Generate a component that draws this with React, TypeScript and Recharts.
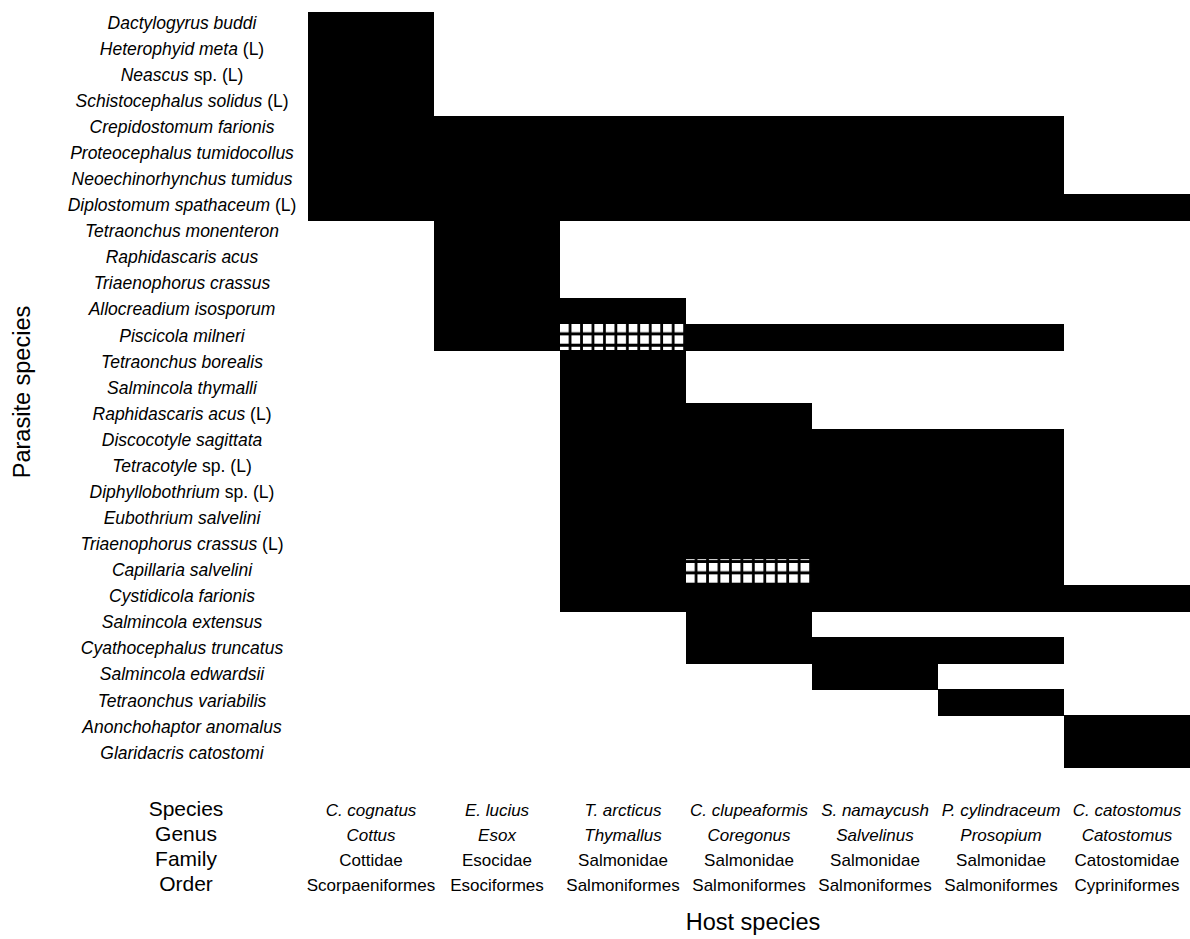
import { BarChart, Bar, XAxis, YAxis } from "recharts";

const parasites = [
  "Dactylogyrus buddi",
  "Heterophyid meta (L)",
  "Neascus sp. (L)",
  "Schistocephalus solidus (L)",
  "Crepidostomum farionis",
  "Proteocephalus tumidocollus",
  "Neoechinorhynchus tumidus",
  "Diplostomum spathaceum (L)",
  "Tetraonchus monenteron",
  "Raphidascaris acus",
  "Triaenophorus crassus",
  "Allocreadium isosporum",
  "Piscicola milneri",
  "Tetraonchus borealis",
  "Salmincola thymalli",
  "Raphidascaris acus (L)",
  "Discocotyle sagittata",
  "Tetracotyle sp. (L)",
  "Diphyllobothrium sp. (L)",
  "Eubothrium salvelini",
  "Triaenophorus crassus (L)",
  "Capillaria salvelini",
  "Cystidicola farionis",
  "Salmincola extensus",
  "Cyathocephalus truncatus",
  "Salmincola edwardsii",
  "Tetraonchus variabilis",
  "Anonchohaptor anomalus",
  "Glaridacris catostomi",
];

const hostSpecies = ["C. cognatus", "E. lucius", "T. arcticus", "C. clupeaformis", "S. namaycush", "P. cylindraceum", "C. catostomus"];
const hostGenus = ["Cottus", "Esox", "Thymallus", "Coregonus", "Salvelinus", "Prosopium", "Catostomus"];
const hostFamily = ["Cottidae", "Esocidae", "Salmonidae", "Salmonidae", "Salmonidae", "Salmonidae", "Catostomidae"];
const hostOrder = ["Scorpaeniformes", "Esociformes", "Salmoniformes", "Salmoniformes", "Salmoniformes", "Salmoniformes", "Cypriniformes"];
const rankLabels = ["Species", "Genus", "Family", "Order"];

// 1 = present, 2 = checkered cell, 0 = absent (one value per parasite row)
const cCognatus = [1, 1, 1, 1, 1, 1, 1, 1, 0, 0, 0, 0, 0, 0, 0, 0, 0, 0, 0, 0, 0, 0, 0, 0, 0, 0, 0, 0, 0];
const eLucius = [0, 0, 0, 0, 1, 1, 1, 1, 1, 1, 1, 1, 1, 0, 0, 0, 0, 0, 0, 0, 0, 0, 0, 0, 0, 0, 0, 0, 0];
const tArcticus = [0, 0, 0, 0, 1, 1, 1, 1, 0, 0, 0, 1, 2, 1, 1, 1, 1, 1, 1, 1, 1, 1, 1, 0, 0, 0, 0, 0, 0];
const cClupeaformis = [0, 0, 0, 0, 1, 1, 1, 1, 0, 0, 0, 0, 1, 0, 0, 1, 1, 1, 1, 1, 1, 2, 1, 1, 1, 0, 0, 0, 0];
const sNamaycush = [0, 0, 0, 0, 1, 1, 1, 1, 0, 0, 0, 0, 1, 0, 0, 0, 1, 1, 1, 1, 1, 1, 1, 0, 1, 1, 0, 0, 0];
const pCylindraceum = [0, 0, 0, 0, 1, 1, 1, 1, 0, 0, 0, 0, 1, 0, 0, 0, 1, 1, 1, 1, 1, 1, 1, 0, 1, 0, 1, 0, 0];
const cCatostomus = [0, 0, 0, 0, 0, 0, 0, 1, 0, 0, 0, 0, 0, 0, 0, 0, 0, 0, 0, 0, 0, 0, 1, 0, 0, 0, 0, 1, 1];

const presence = [cCognatus, eLucius, tArcticus, cClupeaformis, sNamaycush, pCylindraceum, cCatostomus];

// every host is one unit-wide slot in the stack
const data = parasites.map((name) => {
  const row: Record<string, string | number> = { name };
  hostSpecies.forEach((_, j) => {
    row[`h${j}`] = 1;
  });
  return row;
});

const hostTicks = hostSpecies.map((_, j) => j + 0.5);

const FONT = "'Liberation Sans', Arial, Helvetica, sans-serif";

const fillFor = (v: number) => (v === 1 ? "#000" : v === 2 ? "url(#checker)" : "none");

const splitName = (name: string) => {
  const m = name.match(/^(.*?)( sp\.)?( \(L\))?$/);
  const italic = m ? m[1] : name;
  const plain = m ? (m[2] || "") + (m[3] || "") : "";
  return { italic, plain };
};

// snap cell edges outward to whole pixels so stacked rows don't show seams
const CellRect = (props: any) => {
  const { x, y, width, height, v } = props;
  if (!v) return null;
  const x0 = Math.floor(x);
  const x1 = Math.ceil(x + width);
  const y0 = Math.floor(y);
  const y1 = Math.ceil(y + height);
  return <rect x={x0} y={y0} width={x1 - x0} height={y1 - y0} fill={fillFor(v)} />;
};

const ParasiteTick = (props: any) => {
  const { x, y, payload } = props;
  const { italic, plain } = splitName(String(payload.value));
  return (
    <text x={x - 126} y={y + 3.7} textAnchor="middle" fontSize={17.5} fill="#000" fontFamily={FONT}>
      <tspan fontStyle="italic">{italic}</tspan>
      {plain && <tspan>{plain}</tspan>}
    </text>
  );
};

const HostTick = (props: any) => {
  const { x, y, payload } = props;
  const j = Math.floor(payload.value);
  const lines = [hostSpecies[j], hostGenus[j], hostFamily[j], hostOrder[j]];
  return (
    <g>
      {lines.map((t, k) => (
        <text
          key={k}
          x={x}
          y={y + 48 + k * 25}
          textAnchor="middle"
          fontSize={17}
          fontStyle={k < 2 ? "italic" : "normal"}
          fill="#000"
          fontFamily={FONT}
        >
          {t}
        </text>
      ))}
    </g>
  );
};

const HostHeaders = () => (
  <g>
    {rankLabels.map((t, k) => (
      <text key={t} x={186} y={816 + k * 25} textAnchor="middle" fontSize={21} fill="#000" fontFamily={FONT}>
        {t}
      </text>
    ))}
    <text x={753} y={930} textAnchor="middle" fontSize={23.5} fill="#000" fontFamily={FONT}>
      Host species
    </text>
  </g>
);

const ParasiteTitle = () => (
  <text
    x={22}
    y={392}
    transform="rotate(-90, 22, 392)"
    textAnchor="middle"
    dominantBaseline="central"
    fontSize={23.5}
    fill="#000"
    fontFamily={FONT}
  >
    Parasite species
  </text>
);

export default function App() {
  return (
    <div style={{ position: "absolute", left: 0, top: 0, width: 1190, height: 939, background: "#fff" }}>
      <BarChart
        width={1190}
        height={939}
        data={data}
        layout="vertical"
        margin={{ top: 12, right: 0, bottom: 21, left: 0 }}
        barCategoryGap={0}
        barGap={0}
      >
        <defs>
          <pattern id="checker" patternUnits="userSpaceOnUse" x={560} y={324} width={11.4545} height={11.38}>
            <rect x={0} y={0} width={11.4545} height={11.38} fill="#000" />
            <rect x={0} y={0} width={8.7} height={8.3} fill="#fff" />
          </pattern>
        </defs>
        <XAxis
          type="number"
          domain={[0, 7]}
          ticks={hostTicks}
          interval={0}
          height={150}
          axisLine={false}
          tickLine={false}
          tickSize={0}
          tickMargin={0}
          tick={<HostTick />}
          label={HostHeaders}
        />
        <YAxis
          type="category"
          dataKey="name"
          width={308}
          interval={0}
          axisLine={false}
          tickLine={false}
          tickSize={0}
          tickMargin={0}
          tick={<ParasiteTick />}
          label={ParasiteTitle}
        />
        {presence.map((col, j) => (
          <Bar
            key={j}
            dataKey={`h${j}`}
            stackId="m"
            isAnimationActive={false}
            shape={(p: any) => <CellRect {...p} v={col[p.index]} />}
          />
        ))}
      </BarChart>
    </div>
  );
}
